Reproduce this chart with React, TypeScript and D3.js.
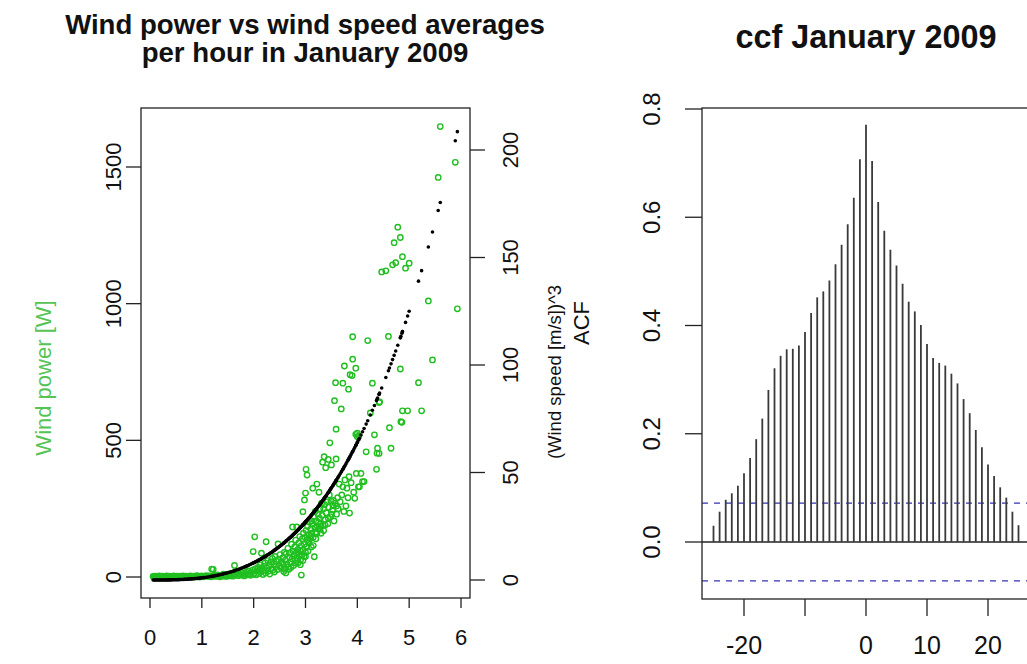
import React from "react";
import * as d3 from "d3";

// ---------- DATA ----------
const speedTicks = [0, 1, 2, 3, 4, 5, 6];
const powerTicks = [0, 500, 1000, 1500];
const cubeTicks = [0, 50, 100, 150, 200];
const acfTicks = [0, 0.2, 0.4, 0.6, 0.8];
const acfTickLabels = ["0.0", "0.2", "0.4", "0.6", "0.8"];
const lagTicks = [-20, -10, 0, 10, 20];
const lagTickLabels = ["-20", "", "0", "10", "20"];

const lags = [
  -25, -24, -23, -22, -21, -20, -19, -18, -17, -16, -15, -14, -13, -12, -11, -10, -9, -8, -7, -6, -5, -4, -3, -2, -1,
  0, 1, 2, 3, 4, 5, 6, 7, 8, 9, 10, 11, 12, 13, 14, 15, 16, 17, 18, 19, 20, 21, 22, 23, 24, 25,
];
const ccfValues = [
  0.030, 0.056, 0.078, 0.090, 0.104, 0.127, 0.155, 0.190, 0.228, 0.281, 0.321, 0.344, 0.356, 0.357, 0.363, 0.388,
  0.423, 0.452, 0.463, 0.483, 0.513, 0.549, 0.587, 0.636, 0.707, 0.771, 0.704, 0.628, 0.575, 0.540, 0.511, 0.477,
  0.444, 0.426, 0.401, 0.366, 0.340, 0.331, 0.326, 0.311, 0.293, 0.264, 0.238, 0.207, 0.175, 0.143, 0.122, 0.101,
  0.082, 0.056, 0.031,
];
const ciBound = 0.072;

// hourly averages: [wind speed m/s, wind power W]
const windObs: [number, number][] = [
  [0.06, 2], [0.08, 0], [0.1, 3], [0.12, 1], [0.14, 0], [0.16, 2], [0.18, 4], [0.2, 1], [0.22, 0], [0.24, 3],
  [0.26, 2], [0.28, 0], [0.3, 1], [0.32, 4], [0.34, 2], [0.36, 0], [0.38, 3], [0.4, 1], [0.42, 2], [0.44, 0],
  [0.46, 4], [0.48, 1], [0.5, 2], [0.52, 3], [0.54, 0], [0.56, 1], [0.58, 3], [0.6, 2], [0.62, 0], [0.64, 4],
  [0.66, 1], [0.68, 2], [0.7, 3], [0.72, 0], [0.74, 2], [0.76, 1], [0.78, 4], [0.8, 2], [0.82, 0], [0.84, 3],
  [0.86, 1], [0.88, 2], [0.9, 5], [0.92, 1], [0.94, 3], [0.96, 0], [0.98, 2], [1.0, 4], [1.03, 1], [1.06, 3],
  [1.09, 5], [1.12, 2], [1.15, 4], [1.18, 1], [1.19, 29],
  [1.21, 3], [1.22, 28], [1.24, 6], [1.27, 2], [1.3, 8], [1.32, 4], [1.35, 1], [1.37, 7], [1.4, 3], [1.42, 10],
  [1.45, 5], [1.47, 2], [1.5, 9], [1.52, 4], [1.55, 12], [1.57, 6], [1.6, 3], [1.62, 10], [1.63, 42], [1.65, 8],
  [1.68, 14], [1.7, 5], [1.72, 11], [1.75, 7], [1.77, 16], [1.8, 9], [1.82, 4], [1.84, 13], [1.86, 18], [1.88, 8],
  [1.9, 22], [1.92, 12], [1.94, 6], [1.96, 17], [1.98, 25], [1.99, 93], [2.0, 10],
  [2.01, 14], [2.02, 147], [2.03, 30], [2.05, 8], [2.06, 22], [2.08, 35], [2.1, 12], [2.11, 27], [2.13, 45],
  [2.14, 18], [2.15, 87], [2.16, 31], [2.18, 9], [2.19, 40], [2.2, 24], [2.22, 52], [2.23, 15], [2.24, 129],
  [2.25, 34], [2.27, 60], [2.28, 21], [2.3, 43], [2.31, 11], [2.33, 55], [2.34, 30], [2.36, 68], [2.37, 25],
  [2.39, 48], [2.4, 18], [2.41, 75], [2.43, 38], [2.44, 58], [2.46, 27], [2.47, 121], [2.48, 64], [2.5, 40],
  [2.51, 82], [2.53, 33], [2.54, 55], [2.56, 70], [2.57, 46], [2.58, 20], [2.59, 90], [2.6, 28],
  [2.61, 62], [2.62, 15], [2.63, 85], [2.64, 48], [2.66, 105], [2.67, 37], [2.68, 28], [2.69, 72], [2.7, 88],
  [2.71, 55], [2.72, 35], [2.73, 120], [2.74, 66], [2.75, 183], [2.76, 95], [2.77, 42], [2.78, 78], [2.79, 110],
  [2.8, 60], [2.81, 135], [2.82, 88], [2.82, 50], [2.83, 183], [2.84, 70], [2.85, 100], [2.86, 52], [2.86, 90],
  [2.87, 125], [2.88, 82], [2.89, 148], [2.9, 95], [2.9, 45], [2.91, 65], [2.92, 7], [2.92, 115], [2.93, 80],
  [2.94, 140], [2.95, 239], [2.95, 100], [2.95, 60], [2.96, 160], [2.97, 75], [2.98, 282], [2.98, 120],
  [2.99, 145], [3.0, 90], [3.0, 307], [3.0, 75], [3.01, 394], [3.01, 170], [3.02, 110], [3.03, 135], [3.03, 373],
  [3.04, 185], [3.05, 95], [3.05, 130], [3.06, 155], [3.07, 125], [3.08, 200], [3.09, 140], [3.1, 175],
  [3.1, 150], [3.11, 110], [3.12, 160], [3.12, 205], [3.13, 195], [3.14, 325], [3.15, 145], [3.15, 115],
  [3.16, 220], [3.17, 74], [3.18, 180], [3.19, 240], [3.2, 165], [3.2, 140],
  [3.21, 205], [3.22, 340], [3.22, 160], [3.23, 185], [3.24, 230], [3.25, 175], [3.25, 200], [3.26, 310],
  [3.27, 215], [3.28, 250], [3.28, 175], [3.29, 195], [3.3, 160], [3.3, 185], [3.31, 270], [3.32, 225],
  [3.33, 420], [3.34, 190], [3.35, 250], [3.35, 170], [3.36, 440], [3.37, 265], [3.38, 210], [3.38, 190],
  [3.39, 400], [3.4, 235], [3.42, 275], [3.43, 195], [3.44, 430], [3.44, 215], [3.45, 255], [3.46, 300],
  [3.47, 491], [3.48, 220], [3.49, 278], [3.5, 410], [3.5, 230], [3.52, 245], [3.53, 260], [3.54, 280],
  [3.55, 205], [3.56, 645], [3.57, 270], [3.58, 711], [3.59, 432], [3.59, 541], [3.6, 230], [3.6, 260],
  [3.62, 290], [3.63, 250], [3.65, 340], [3.67, 275], [3.69, 615], [3.7, 300], [3.72, 709], [3.72, 330],
  [3.74, 240], [3.75, 772], [3.76, 355], [3.78, 260], [3.8, 325], [3.82, 290], [3.83, 687], [3.84, 367],
  [3.85, 234], [3.86, 740], [3.88, 345], [3.9, 737], [3.91, 797], [3.91, 879], [3.93, 310], [3.95, 288],
  [3.97, 764], [3.97, 522], [3.98, 379], [4.0, 526], [4.0, 513], [4.02, 330], [4.03, 516], [4.04, 330],
  [4.07, 379], [4.1, 349],
  [4.13, 349], [4.17, 458], [4.2, 865], [4.25, 600], [4.29, 709], [4.33, 520], [4.37, 394], [4.38, 453],
  [4.39, 471], [4.42, 452], [4.42, 638], [4.43, 641], [4.47, 1116], [4.55, 1120], [4.6, 880], [4.62, 546],
  [4.65, 471], [4.68, 1142], [4.71, 1223], [4.74, 1150], [4.78, 1280], [4.83, 1242], [4.83, 761], [4.84, 568],
  [4.86, 566], [4.87, 608], [4.87, 1172], [4.93, 1130], [4.97, 608], [5.0, 1148],
  [5.18, 711], [5.24, 608], [5.37, 1010], [5.45, 794], [5.56, 1462], [5.6, 1648], [5.89, 1517], [5.93, 981],
];

// ---------- LAYOUT ----------
const W = 1027;
const H = 664;
const FONT = "'Liberation Sans', Arial, Helvetica, sans-serif";

const L = { x0: 141, x1: 470, y0: 108, y1: 598 };
const R = { x0: 702, x1: 1030, y0: 108, y1: 599 };

const xSpeed = d3.scaleLinear().domain([0, 6]).range([150, 461]);
const yPower = d3.scaleLinear().domain([0, 1500]).range([577, 167]);
const yCube = d3.scaleLinear().domain([0, 200]).range([580, 150]);
const xLag = d3.scaleLinear().domain([-20, 20]).range([744, 988]);
const yAcf = d3.scaleLinear().domain([0, 0.8]).range([542, 109]);

const GREEN = "#1fbf1f";
const AXIS = "#222";

export default function App() {
  const tickLen = 15;
  return (
    <svg
      width={W}
      height={H}
      style={{ position: "absolute", left: 0, top: 0, background: "#fff" }}
      fontFamily={FONT}
    >
      <rect x={0} y={0} width={W} height={H} fill="#fff" />

      {/* ===== LEFT PANEL ===== */}
      <text x={305} y={34} textAnchor="middle" fontWeight="bold" fontSize={27.6} fill="#111">
        Wind power vs wind speed averages
      </text>
      <text x={305} y={62} textAnchor="middle" fontWeight="bold" fontSize={27.6} fill="#111">
        per hour in January 2009
      </text>

      {/* green: wind power */}
      <g>
        {windObs.map((d, i) => (
          <circle
            key={"g" + i}
            cx={xSpeed(d[0])}
            cy={yPower(d[1])}
            r={2.7}
            fill="none"
            stroke={GREEN}
            strokeWidth={1.4}
          />
        ))}
      </g>
      {/* black: wind speed cubed */}
      <g>
        {windObs.map((d, i) => (
          <circle key={"b" + i} cx={xSpeed(d[0])} cy={yCube(d[0] * d[0] * d[0])} r={1.8} fill="#000" />
        ))}
      </g>

      <rect x={L.x0} y={L.y0} width={L.x1 - L.x0} height={L.y1 - L.y0} fill="none" stroke={AXIS} strokeWidth={1.3} />

      {/* bottom axis */}
      {speedTicks.map((t) => (
        <g key={"xs" + t}>
          <line x1={xSpeed(t)} x2={xSpeed(t)} y1={L.y1} y2={L.y1 + 10} stroke={AXIS} strokeWidth={1.3} />
          <text x={xSpeed(t)} y={645} textAnchor="middle" fontSize={22} fill="#111">
            {t}
          </text>
        </g>
      ))}

      {/* left axis: power */}
      {powerTicks.map((t) => (
        <g key={"yp" + t}>
          <line x1={L.x0 - tickLen} x2={L.x0} y1={yPower(t)} y2={yPower(t)} stroke={AXIS} strokeWidth={1.3} />
          <text
            transform={`translate(${113},${yPower(t)}) rotate(-90)`}
            textAnchor="middle"
            dominantBaseline="central"
            fontSize={22}
            fill="#111"
          >
            {t}
          </text>
        </g>
      ))}
      <text
        transform={`translate(${43},${378}) rotate(-90)`}
        textAnchor="middle"
        dominantBaseline="central"
        fontSize={22}
        fill="#55c455"
      >
        Wind power [W]
      </text>

      {/* right axis: cube */}
      {cubeTicks.map((t) => (
        <g key={"yc" + t}>
          <line x1={L.x1} x2={L.x1 + tickLen} y1={yCube(t)} y2={yCube(t)} stroke={AXIS} strokeWidth={1.3} />
          <text
            transform={`translate(${510},${yCube(t)}) rotate(-90)`}
            textAnchor="middle"
            dominantBaseline="central"
            fontSize={22}
            fill="#111"
          >
            {t}
          </text>
        </g>
      ))}
      <text
        transform={`translate(${554},${372}) rotate(-90)`}
        textAnchor="middle"
        dominantBaseline="central"
        fontSize={18.5}
        fill="#111"
      >
        (Wind speed [m/s])^3
      </text>

      {/* ===== RIGHT PANEL ===== */}
      <text x={866} y={48} textAnchor="middle" fontWeight="bold" fontSize={32.4} fill="#111">
        ccf January 2009
      </text>
      <text
        transform={`translate(${581},${323}) rotate(-90)`}
        textAnchor="middle"
        dominantBaseline="central"
        fontSize={22}
        fill="#111"
      >
        ACF
      </text>

      {/* confidence bounds */}
      {[ciBound, -ciBound].map((c, i) => (
        <line
          key={"ci" + i}
          x1={R.x0}
          x2={R.x1}
          y1={yAcf(c)}
          y2={yAcf(c)}
          stroke="#3333b0"
          strokeWidth={1.3}
          strokeDasharray="6,6"
        />
      ))}
      {/* zero line */}
      <line x1={R.x0} x2={R.x1} y1={yAcf(0)} y2={yAcf(0)} stroke={AXIS} strokeWidth={1.3} />

      {/* bars */}
      {lags.map((lag, i) => (
        <line
          key={"bar" + lag}
          x1={xLag(lag)}
          x2={xLag(lag)}
          y1={yAcf(0)}
          y2={yAcf(ccfValues[i])}
          stroke="#3a3a3a"
          strokeWidth={1.8}
        />
      ))}

      <rect x={R.x0} y={R.y0} width={R.x1 - R.x0} height={R.y1 - R.y0} fill="none" stroke={AXIS} strokeWidth={1.3} />

      {acfTicks.map((t, i) => (
        <g key={"ya" + t}>
          <line x1={R.x0 - 17} x2={R.x0} y1={yAcf(t)} y2={yAcf(t)} stroke={AXIS} strokeWidth={1.3} />
          <text
            transform={`translate(${651},${yAcf(t)}) rotate(-90)`}
            textAnchor="middle"
            dominantBaseline="central"
            fontSize={24}
            fill="#111"
          >
            {acfTickLabels[i]}
          </text>
        </g>
      ))}
      {lagTicks.map((t, i) => (
        <g key={"xl" + t}>
          <line x1={xLag(t)} x2={xLag(t)} y1={R.y1} y2={R.y1 + 17} stroke={AXIS} strokeWidth={1.3} />
          <text x={xLag(t)} y={654} textAnchor="middle" fontSize={25} fill="#111">
            {lagTickLabels[i]}
          </text>
        </g>
      ))}
    </svg>
  );
}
